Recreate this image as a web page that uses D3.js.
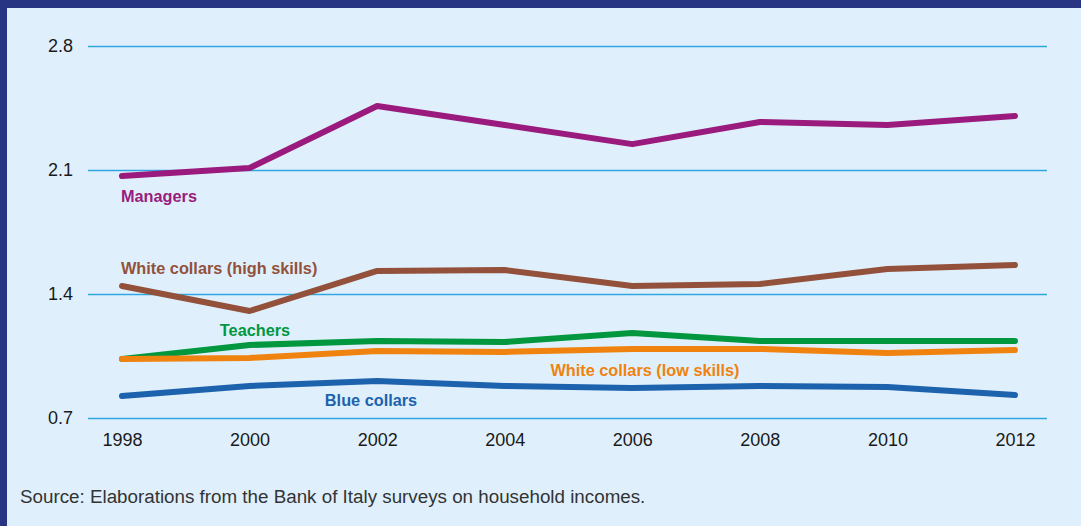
<!DOCTYPE html>
<html>
<head>
<meta charset="utf-8">
<script src="https://cdn.jsdelivr.net/npm/d3@7"></script>
<style>
  html, body { margin: 0; padding: 0; background: #dff0fc; }
  svg { display: block; }
</style>
</head>
<body>
<svg id="chart" width="1081" height="526"></svg>
<script>
// Relative earnings by occupational group, 1998-2012
const years = [1998, 2000, 2002, 2004, 2006, 2008, 2010, 2012];
const yTicks = [0.7, 1.4, 2.1, 2.8];

const managers      = [2.066, 2.111, 2.461, 2.354, 2.246, 2.371, 2.354, 2.405];
const highSkills    = [1.445, 1.304, 1.530, 1.535, 1.445, 1.456, 1.541, 1.564];
const teachers      = [1.033, 1.112, 1.135, 1.129, 1.180, 1.135, 1.135, 1.135];
const lowSkills     = [1.033, 1.039, 1.078, 1.073, 1.090, 1.090, 1.067, 1.084];
const blueCollars   = [0.824, 0.881, 0.909, 0.881, 0.869, 0.881, 0.875, 0.830];

const seriesNames = ["Managers", "White collars (high skills)", "Teachers", "White collars (low skills)", "Blue collars"];
const seriesValues = [managers, highSkills, teachers, lowSkills, blueCollars];
const seriesColors = ["#9a1b7d", "#93513b", "#00973f", "#f0820f", "#1d62ad"];

const W = 1081, H = 526;
const svg = d3.select("#chart");
const FONT = "'Liberation Sans', Arial, sans-serif";

// frame: light panel with navy top and left edges
svg.append("rect").attr("width", W).attr("height", H).attr("fill", "#dff0fc");
svg.append("rect").attr("x", 0).attr("y", 0).attr("width", W).attr("height", 8).attr("fill", "#283582");
svg.append("rect").attr("x", 0).attr("y", 0).attr("width", 7).attr("height", H).attr("fill", "#283582");

const x = d3.scalePoint().domain(years).range([122, 1015]);
const y = d3.scaleLinear().domain([0.7, 2.8]).range([418, 46]);
const gridLeft = 88, gridRight = 1047;

// horizontal grid
const yAxis = d3.axisLeft(y).tickValues(yTicks).tickFormat(d3.format(".1f"))
  .tickSize(-(gridRight - gridLeft)).tickPadding(15);
const gy = svg.append("g").attr("transform", `translate(${gridLeft},0)`).call(yAxis);
gy.select(".domain").remove();
gy.selectAll(".tick line").attr("stroke", "#30a6e0").attr("stroke-width", 1.4);
gy.selectAll(".tick text")
  .attr("fill", "#1a1a1a")
  .style("font-family", FONT)
  .style("font-size", "18px");

// year axis
const xAxis = d3.axisBottom(x).tickSize(0).tickPadding(0);
const gx = svg.append("g").attr("transform", "translate(0,428)").call(xAxis);
gx.select(".domain").remove();
gx.selectAll(".tick text")
  .attr("fill", "#1a1a1a")
  .attr("dy", "1em")
  .style("font-family", FONT)
  .style("font-size", "18px");

// series lines
const line = d3.line().x((d, i) => x(years[i])).y(d => y(d));
seriesValues.forEach((vals, i) => {
  svg.append("path")
    .datum(vals)
    .attr("d", line)
    .attr("fill", "none")
    .attr("stroke", seriesColors[i])
    .attr("stroke-width", 6)
    .attr("stroke-linecap", "round")
    .attr("stroke-linejoin", "round");
});

// direct labels
const labelPos = [
  { x: 121, y: 202, anchor: "start" },
  { x: 121, y: 274, anchor: "start" },
  { x: 255, y: 336, anchor: "middle" },
  { x: 645, y: 376, anchor: "middle" },
  { x: 371, y: 406, anchor: "middle" }
];
seriesNames.forEach((name, i) => {
  svg.append("text")
    .attr("x", labelPos[i].x)
    .attr("y", labelPos[i].y)
    .attr("text-anchor", labelPos[i].anchor)
    .attr("fill", seriesColors[i])
    .style("font-family", FONT)
    .style("font-weight", "bold")
    .style("font-size", "16.3px")
    .text(name);
});

// source note
svg.append("text")
  .attr("x", 20).attr("y", 503)
  .attr("fill", "#333333")
  .style("font-family", FONT)
  .style("font-size", "18.8px")
  .text("Source: Elaborations from the Bank of Italy surveys on household incomes.");
</script>
</body>
</html>
